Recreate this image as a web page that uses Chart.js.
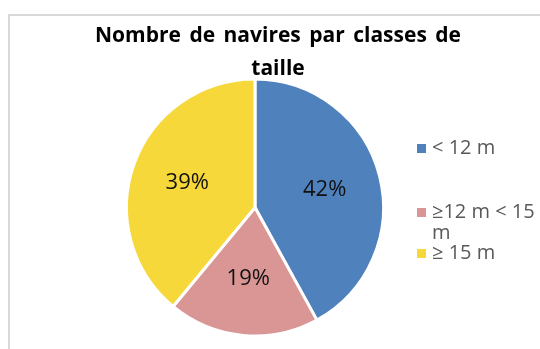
<!DOCTYPE html>
<html lang="fr">
<head>
    <meta charset="UTF-8">
    <title>Nombre de navires par classes de taille</title>
    <script src="https://cdn.jsdelivr.net/npm/chart.js"></script>
    <style>
        body {
            margin: 0;
            background: #ffffff;
        }
        .wrap {
            position: relative;
            width: 540px;
            height: 349px;
            overflow: hidden;
        }
        /* chart frame, runs off the right and bottom edges */
        .frame {
            position: absolute;
            left: 8px;
            top: 14px;
            width: 600px;
            height: 400px;
            border: 2px solid #d9d9d9;
        }
        canvas {
            position: absolute;
            left: 0;
            top: 0;
        }
    </style>
</head>
<body>
    <div class="wrap">
        <div class="frame"></div>
        <canvas id="pieChart" width="540" height="349"></canvas>
    </div>

    <script>
        // Data
        const titleLines = ['Nombre de navires par classes de', 'taille'];
        const classes = ['< 12 m', '≥12 m < 15 m', '≥ 15 m'];
        const shares = [42, 19, 39];
        const colours = ['#4f81bd', '#d99694', '#f6d83a'];

        // Title, drawn above the pie
        const titlePlugin = {
            id: 'titleText',
            afterDraw(chart) {
                const ctx = chart.ctx;
                ctx.save();
                ctx.font = 'bold 21px "Open Sans"';
                ctx.wordSpacing = '3px';
                ctx.fillStyle = '#000000';
                ctx.textAlign = 'center';
                ctx.textBaseline = 'alphabetic';
                titleLines.forEach((line, i) => {
                    ctx.fillText(line, 278, 42 + i * 33);
                });
                ctx.restore();
            }
        };

        // Percentage labels inside each slice
        const sliceLabels = {
            id: 'sliceLabels',
            afterDatasetsDraw(chart) {
                const ctx = chart.ctx;
                const meta = chart.getDatasetMeta(0);
                ctx.save();
                ctx.font = '22px "Open Sans"';
                ctx.fillStyle = '#111111';
                ctx.textAlign = 'center';
                ctx.textBaseline = 'middle';
                meta.data.forEach((arc, i) => {
                    const p = arc.getProps(['x', 'y', 'startAngle', 'endAngle', 'outerRadius']);
                    const mid = (p.startAngle + p.endAngle) / 2;
                    const r = p.outerRadius * 0.56;
                    ctx.fillText(shares[i] + '%', p.x + Math.cos(mid) * r, p.y + Math.sin(mid) * r);
                });
                ctx.restore();
            }
        };

        // Legend on the right, with wrapping text
        const sideLegend = {
            id: 'sideLegend',
            afterDraw(chart) {
                const ctx = chart.ctx;
                const boxX = 417, textX = 432, maxW = 112;
                const itemY = [148, 212, 253];
                ctx.save();
                ctx.font = '20px "Open Sans"';
                ctx.textBaseline = 'middle';
                classes.forEach((label, i) => {
                    ctx.fillStyle = colours[i];
                    ctx.fillRect(boxX, itemY[i] - 4, 9, 9);
                    // simple word wrap
                    const words = label.split(' ');
                    const lines = [];
                    let cur = '';
                    words.forEach(w => {
                        const test = cur ? cur + ' ' + w : w;
                        if (ctx.measureText(test).width > maxW && cur) {
                            lines.push(cur);
                            cur = w;
                        } else {
                            cur = test;
                        }
                    });
                    lines.push(cur);
                    ctx.fillStyle = '#595959';
                    lines.forEach((l, j) => ctx.fillText(l, textX, itemY[i] + j * 21));
                });
                ctx.restore();
            }
        };

        new Chart(document.getElementById('pieChart'), {
            type: 'pie',
            data: {
                labels: classes,
                datasets: [{
                    data: shares,
                    backgroundColor: colours,
                    borderColor: '#ffffff',
                    borderWidth: 3
                }]
            },
            options: {
                responsive: false,
                animation: false,
                layout: {
                    padding: { left: 125, right: 155, top: 77, bottom: 11 }
                },
                plugins: {
                    legend: { display: false },
                    title: { display: false },
                    tooltip: { enabled: false }
                }
            },
            plugins: [titlePlugin, sliceLabels, sideLegend]
        });
    </script>
</body>
</html>
